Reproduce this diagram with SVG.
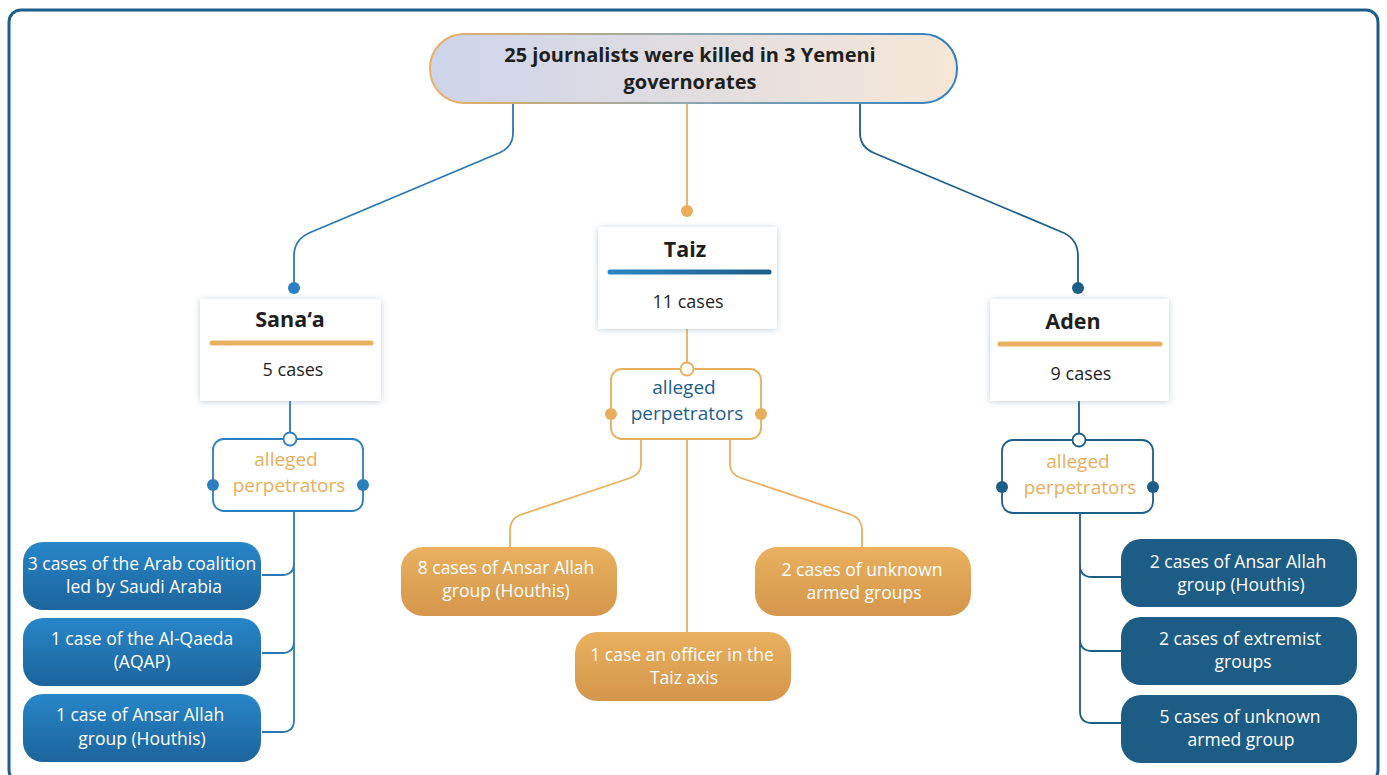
<svg xmlns="http://www.w3.org/2000/svg" width="1387" height="775" viewBox="0 0 1387 775">
<defs>
<linearGradient id="topFill" x1="0" y1="0" x2="1" y2="0"><stop offset="0" stop-color="#cdd4ea"/><stop offset="1" stop-color="#f6e7d6"/></linearGradient>
<linearGradient id="topStroke" x1="0" y1="0" x2="1" y2="0"><stop offset="0" stop-color="#e8b060"/><stop offset="0.5" stop-color="#8fa6b0"/><stop offset="1" stop-color="#2f80c0"/></linearGradient>
<linearGradient id="blueLeaf" x1="0" y1="0" x2="0" y2="1"><stop offset="0" stop-color="#2886c8"/><stop offset="1" stop-color="#1c649c"/></linearGradient>
<linearGradient id="orangeLeaf" x1="0" y1="0" x2="0" y2="1"><stop offset="0" stop-color="#e9b15f"/><stop offset="1" stop-color="#d4964c"/></linearGradient>
<linearGradient id="blueBar" gradientUnits="userSpaceOnUse" x1="610" y1="0" x2="769" y2="0"><stop offset="0" stop-color="#2a86c6"/><stop offset="1" stop-color="#1d5e88"/></linearGradient>
<filter id="shadow" x="-20%" y="-20%" width="140%" height="140%"><feDropShadow dx="0" dy="1" stdDeviation="3" flood-color="#7d9ab5" flood-opacity="0.45"/></filter>
<style>
text{font-family:"Open Sans","Noto Sans","Liberation Sans",sans-serif;text-anchor:middle}
.title{font-weight:bold;font-size:20px;fill:#1f1f1f}
.ctitle{font-weight:bold;font-size:21.5px;fill:#1f1f1f}
.cases{font-size:18px;fill:#1f1f1f}
.leaf{font-size:17.5px;fill:#ffffff}
.ap-o{font-size:19px;fill:#e8ae5c}
.ap-b{font-size:19px;fill:#1f5e8a}
.card{fill:#ffffff;filter:url(#shadow)}
.cb{fill:none;stroke:#2a78b8;stroke-width:1.8}
.cd{fill:none;stroke:#1d5e88;stroke-width:1.8}
.co{fill:none;stroke:#e8b060;stroke-width:1.8}
</style>
</defs>
<rect x="9" y="10" width="1369" height="772" rx="12" fill="#ffffff" stroke="#1d5e88" stroke-width="3"/>

<g id="connectors">
<path class="cb" d="M513,103 V133 Q513,147 499,153 L309,233 Q294,240 294,256 V288"/>
<path class="co" d="M687,103 V211"/>
<path class="cd" d="M860,103 V133 Q860,147 874,153 L1064,233 Q1078,240 1078,256 V288"/>
<path class="cb" d="M290,401 V439"/>
<path class="co" d="M687,329 V369"/>
<path class="cd" d="M1079,401 V440"/>
<path class="cb" d="M294,511 V563 Q294,575 282,575 H262 M294,563 V641 Q294,653 282,653 H262 M294,641 V720 Q294,732 282,732 H262"/>
<path class="co" d="M641,439 V465 Q641,474 630,478 L520,515 Q510,519 510,530 V547"/>
<path class="co" d="M687,439 V632"/>
<path class="co" d="M730,439 V465 Q730,474 741,478 L852,515 Q862,519 862,530 V547"/>
<path class="cd" d="M1080,513 V565 Q1080,577 1092,577 H1121 M1080,565 V639 Q1080,651 1092,651 H1121 M1080,639 V711 Q1080,723 1092,723 H1121"/>
<circle cx="294" cy="288" r="6" fill="#2a7fc0"/>
<circle cx="687" cy="211" r="6" fill="#e8ae5c"/>
<circle cx="1078" cy="288" r="6" fill="#1d5e88"/>
</g>

<g id="root">
<rect x="430" y="34" width="527" height="69" rx="34" fill="url(#topFill)" stroke="url(#topStroke)" stroke-width="2"/>
<text class="title" x="690" y="62">25 journalists were killed in 3 Yemeni</text>
<text class="title" x="690" y="89">governorates</text>
</g>

<g id="sanaa">
<rect class="card" x="200" y="299" width="181" height="102"/>
<text class="ctitle" x="290" y="327">Sana‘a</text>
<line x1="212" y1="343" x2="371" y2="343" stroke="#e8b060" stroke-width="5" stroke-linecap="round"/>
<text class="cases" x="293" y="376">5 cases</text>
</g>

<g id="taiz">
<rect class="card" x="598" y="227" width="179" height="102"/>
<text class="ctitle" x="685" y="257">Taiz</text>
<line x1="610" y1="272" x2="769" y2="272" stroke="url(#blueBar)" stroke-width="5" stroke-linecap="round"/>
<text class="cases" x="688" y="308">11 cases</text>
</g>

<g id="aden">
<rect class="card" x="990" y="299" width="179" height="102"/>
<text class="ctitle" x="1073" y="329">Aden</text>
<line x1="1000" y1="344" x2="1160" y2="344" stroke="#e8b060" stroke-width="5" stroke-linecap="round"/>
<text class="cases" x="1081" y="380">9 cases</text>
</g>

<g id="sanaa-perp">
<rect x="213" y="439" width="150" height="72" rx="11" fill="#ffffff" stroke="#2a7fc0" stroke-width="1.8"/>
<circle cx="290" cy="439" r="6.5" fill="#ffffff" stroke="#2a7fc0" stroke-width="1.8"/>
<circle cx="213" cy="485" r="6" fill="#2a7fc0"/>
<circle cx="363" cy="485" r="6" fill="#2a7fc0"/>
<text class="ap-o" x="286" y="466">alleged</text>
<text class="ap-o" x="289" y="492">perpetrators</text>
</g>

<g id="taiz-perp">
<rect x="611" y="369" width="150" height="70" rx="11" fill="#ffffff" stroke="#e8ae5c" stroke-width="1.8"/>
<circle cx="687" cy="369" r="6.5" fill="#ffffff" stroke="#e8ae5c" stroke-width="1.8"/>
<circle cx="611" cy="414" r="6" fill="#e8ae5c"/>
<circle cx="761" cy="414" r="6" fill="#e8ae5c"/>
<text class="ap-b" x="684" y="394">alleged</text>
<text class="ap-b" x="687" y="420">perpetrators</text>
</g>

<g id="aden-perp">
<rect x="1002" y="440" width="151" height="73" rx="11" fill="#ffffff" stroke="#1d5e88" stroke-width="1.8"/>
<circle cx="1079" cy="440" r="6.5" fill="#ffffff" stroke="#1d5e88" stroke-width="1.8"/>
<circle cx="1002" cy="487" r="6" fill="#1d5e88"/>
<circle cx="1153" cy="487" r="6" fill="#1d5e88"/>
<text class="ap-o" x="1078" y="468">alleged</text>
<text class="ap-o" x="1080" y="494">perpetrators</text>
</g>

<g id="s1"><rect x="23" y="542" width="238" height="68" rx="20" fill="url(#blueLeaf)"/><text class="leaf" x="142" y="570">3 cases of the Arab coalition</text><text class="leaf" x="144" y="593">led by Saudi Arabia</text></g>
<g id="s2"><rect x="23" y="618" width="238" height="68" rx="20" fill="url(#blueLeaf)"/><text class="leaf" x="142" y="645">1 case of the Al-Qaeda</text><text class="leaf" x="142" y="668">(AQAP)</text></g>
<g id="s3"><rect x="23" y="694" width="238" height="68" rx="20" fill="url(#blueLeaf)"/><text class="leaf" x="140" y="721">1 case of Ansar Allah</text><text class="leaf" x="142" y="745">group (Houthis)</text></g>

<g id="t1"><rect x="401" y="547" width="216" height="69" rx="22" fill="url(#orangeLeaf)"/><text class="leaf" x="506" y="574">8 cases of Ansar Allah</text><text class="leaf" x="506" y="597">group (Houthis)</text></g>
<g id="t2"><rect x="755" y="547" width="216" height="69" rx="22" fill="url(#orangeLeaf)"/><text class="leaf" x="862" y="576">2 cases of unknown</text><text class="leaf" x="864" y="599">armed groups</text></g>
<g id="t3"><rect x="575" y="632" width="216" height="69" rx="22" fill="url(#orangeLeaf)"/><text class="leaf" x="682" y="661">1 case an officer in the</text><text class="leaf" x="684" y="684">Taiz axis</text></g>

<g id="a1"><rect x="1121" y="539" width="236" height="68" rx="20" fill="#1d5c85"/><text class="leaf" x="1238" y="568">2 cases  of Ansar Allah</text><text class="leaf" x="1241" y="591">group (Houthis)</text></g>
<g id="a2"><rect x="1121" y="617" width="236" height="68" rx="20" fill="#1d5c85"/><text class="leaf" x="1240" y="645">2 cases of extremist</text><text class="leaf" x="1243" y="668">groups</text></g>
<g id="a3"><rect x="1121" y="695" width="236" height="68" rx="20" fill="#1d5c85"/><text class="leaf" x="1240" y="723">5 cases of unknown</text><text class="leaf" x="1241" y="746">armed group</text></g>
</svg>
